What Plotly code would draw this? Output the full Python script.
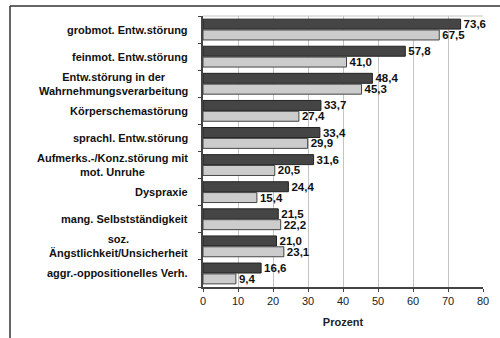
import plotly.graph_objects as go

categories = [
    "grobmot. Entw.störung",
    "feinmot. Entw.störung",
    "Entw.störung in der<br>Wahrnehmungsverarbeitung",
    "Körperschemastörung",
    "sprachl. Entw.störung",
    "Aufmerks.-/Konz.störung mit<br>mot. Unruhe",
    "Dyspraxie",
    "mang. Selbstständigkeit",
    "soz.<br>Ängstlichkeit/Unsicherheit",
    "aggr.-oppositionelles Verh.",
]
dark_values = [73.6, 57.8, 48.4, 33.7, 33.4, 31.6, 24.4, 21.5, 21.0, 16.6]
light_values = [67.5, 41.0, 45.3, 27.4, 29.9, 20.5, 15.4, 22.2, 23.1, 9.4]
x_ticks = [0, 10, 20, 30, 40, 50, 60, 70, 80]

FONT = "Liberation Sans, Arial, sans-serif"

def de(v):
    return f"{v:.1f}".replace(".", ",")

ypos = list(range(len(categories)))

fig = go.Figure()
fig.add_trace(go.Bar(
    y=ypos, x=dark_values, orientation="h",
    marker=dict(color="#454545", line=dict(color="#222222", width=1)),
    text=[de(v) for v in dark_values], texttemplate="<b>%{text}</b>",
    textposition="outside", constraintext="none",
    textfont=dict(family=FONT, size=11.5, color="#111111"),
    cliponaxis=False, showlegend=False,
))
fig.add_trace(go.Bar(
    y=ypos, x=light_values, orientation="h",
    marker=dict(color="#cccccc", line=dict(color="#444444", width=1)),
    text=[de(v) for v in light_values], texttemplate="<b>%{text}</b>",
    textposition="outside", constraintext="none",
    textfont=dict(family=FONT, size=11.5, color="#111111"),
    cliponaxis=False, showlegend=False,
))

# category labels as centred multi-line annotations left of the axis
for i, c in enumerate(categories):
    fig.add_annotation(
        x=-0.046, xref="paper", y=i, yref="y",
        text=f"<b>{c}</b>", showarrow=False,
        xanchor="right", yanchor="middle", align="center",
        font=dict(family=FONT, size=11, color="#111111"),
    )

# frame lines around the chart
L, R, T, B = 203, 17, 16, 51
W, H = 500, 338
pw, ph = W - L - R, H - T - B
def px(x):
    return (x - L) / pw
def py(y):
    return (H - B - y) / ph
fig.add_shape(type="line", xref="paper", yref="paper",
              x0=px(10), x1=px(500), y0=py(6), y1=py(6),
              line=dict(color="#333333", width=1.5))
fig.add_shape(type="line", xref="paper", yref="paper",
              x0=px(10), x1=px(10), y0=py(6), y1=py(338),
              line=dict(color="#333333", width=1.5))

fig.update_layout(
    width=W, height=H,
    margin=dict(l=L, r=R, t=T, b=B),
    paper_bgcolor="white", plot_bgcolor="white",
    barmode="group", bargap=0.2, bargroupgap=0.08,
    font=dict(family=FONT, size=11, color="#222222"),
    xaxis=dict(
        range=[0, 80], tickvals=x_ticks, ticks="outside", ticklen=3,
        tickcolor="#444444", showline=True, linecolor="#444444", linewidth=1.5,
        showgrid=True, gridcolor="#c4c4c4", gridwidth=1,
        zeroline=False, mirror=False,
        tickfont=dict(family=FONT, size=11, color="#222222"),
        title=dict(text="<b>Prozent</b>", standoff=12,
                   font=dict(family=FONT, size=11, color="#222222")),
    ),
    yaxis=dict(
        range=[len(categories) - 0.5, -0.5],
        tickvals=[i - 0.5 for i in range(len(categories) + 1)],
        ticktext=[""] * (len(categories) + 1),
        ticks="outside", ticklen=3, tickcolor="#444444",
        showline=True, linecolor="#444444", linewidth=1.5,
        showgrid=False, zeroline=False,
    ),
)
fig.add_shape(type="line", xref="paper", yref="paper", x0=0, x1=1, y0=1, y1=1,
              line=dict(color="#c4c4c4", width=1))

fig.write_html("out.html")
